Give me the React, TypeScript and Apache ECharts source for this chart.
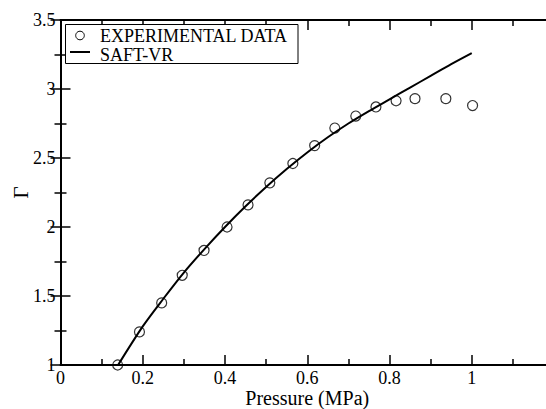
import React, { useEffect, useRef } from "react";
import * as echarts from "echarts";

const expPressure = [0.139, 0.192, 0.246, 0.296, 0.349, 0.405, 0.456, 0.509, 0.565, 0.618, 0.667, 0.718, 0.767, 0.816, 0.862, 0.937, 1.002];
const expGamma = [1.0, 1.24, 1.45, 1.65, 1.83, 2.0, 2.16, 2.32, 2.46, 2.59, 2.717, 2.804, 2.87, 2.915, 2.93, 2.93, 2.88];

const saftPressure = [0.14, 0.2, 0.25, 0.3, 0.35, 0.4, 0.45, 0.5, 0.55, 0.6, 0.65, 0.7, 0.75, 0.8, 0.85, 0.9, 0.95, 1.0];
const saftGamma = [1.0, 1.28, 1.48, 1.67, 1.84, 2.0, 2.15, 2.29, 2.42, 2.54, 2.65, 2.75, 2.84, 2.925, 3.01, 3.095, 3.18, 3.26];

const legendLabels = ["EXPERIMENTAL DATA", "SAFT-VR"];
const xTitle = "Pressure (MPa)";
const yTitle = "Γ";

const FONT = "Liberation Serif";

export default function App() {
  const ref = useRef<HTMLDivElement>(null);
  useEffect(() => {
    if (!ref.current) return;
    const chart = echarts.init(ref.current, null, { renderer: "svg" });
    const tickCommon = {
      axisLine: { show: true, lineStyle: { color: "#000", width: 2 } },
      axisTick: { show: true, inside: true, length: 10, lineStyle: { color: "#000", width: 1.5 } },
      minorTick: { show: true, splitNumber: 2, length: 6, lineStyle: { color: "#000", width: 1.5 } },
      splitLine: { show: false },
      minorSplitLine: { show: false },
    };
    chart.setOption({
      animation: false,
      backgroundColor: "#fff",
      textStyle: { fontFamily: FONT },
      grid: { left: 60.5, top: 20, width: 493.5, height: 345, containLabel: false, outerBoundsMode: "none" },
      xAxis: [
        {
          type: "value", position: "bottom", min: 0, max: 1.2, interval: 0.2,
          ...tickCommon,
          axisLabel: { show: true, color: "#000", fontFamily: FONT, fontSize: 18, lineHeight: 18, margin: 4, showMaxLabel: false },
          name: xTitle, nameLocation: "middle", nameGap: 33, nameMoveOverlap: false,
          nameTextStyle: { color: "#000", fontFamily: FONT, fontSize: 20, lineHeight: 20, verticalAlign: "middle" },
        },
        {
          type: "value", position: "top", min: 0, max: 1.2, interval: 0.2,
          ...tickCommon,
          axisLabel: { show: false },
        },
      ],
      yAxis: [
        {
          type: "value", position: "left", min: 1, max: 3.5, interval: 0.5,
          ...tickCommon,
          axisLabel: { show: true, color: "#000", fontFamily: FONT, fontSize: 18, margin: 5 },
          name: yTitle, nameLocation: "middle", nameGap: 40, nameRotate: 90, nameMoveOverlap: false,
          nameTextStyle: { color: "#000", fontFamily: FONT, fontSize: 21, verticalAlign: "middle" },
        },
        {
          type: "value", position: "right", min: 1, max: 3.5, interval: 0.5,
          ...tickCommon,
          axisLabel: { show: false },
        },
      ],
      series: [
        {
          name: legendLabels[1], type: "line",
          data: saftPressure.map((p, i) => [p, saftGamma[i]]),
          showSymbol: false, smooth: 0.3,
          lineStyle: { color: "#000", width: 2 },
          z: 2,
        },
        {
          name: legendLabels[0], type: "scatter",
          data: expPressure.map((p, i) => [p, expGamma[i]]),
          symbol: "circle", symbolSize: 10,
          itemStyle: { color: "rgba(0,0,0,0)", borderColor: "#000", borderWidth: 1.2 },
          z: 3,
        },
      ],
      graphic: [
        { type: "rect", shape: { x: 65.5, y: 24.5, width: 232.5, height: 39 }, style: { fill: "#fff", stroke: "#000", lineWidth: 1 }, z: 10 },
        { type: "circle", shape: { cx: 80, cy: 35.5, r: 4.3 }, style: { fill: "none", stroke: "#000", lineWidth: 1 }, z: 11 },
        { type: "line", shape: { x1: 70, y1: 52, x2: 90, y2: 52 }, style: { stroke: "#000", lineWidth: 2 }, z: 11 },
        { type: "text", x: 100, y: 36, style: { text: legendLabels[0], fill: "#000", fontFamily: FONT, fontSize: 18, verticalAlign: "middle", align: "left" }, z: 11 },
        { type: "text", x: 100, y: 55, style: { text: legendLabels[1], fill: "#000", fontFamily: FONT, fontSize: 18, verticalAlign: "middle", align: "left" }, z: 11 },
      ],
    });
    return () => chart.dispose();
  }, []);
  return <div ref={ref} style={{ position: "fixed", left: 0, top: 0, width: 546, height: 409 }} />;
}
